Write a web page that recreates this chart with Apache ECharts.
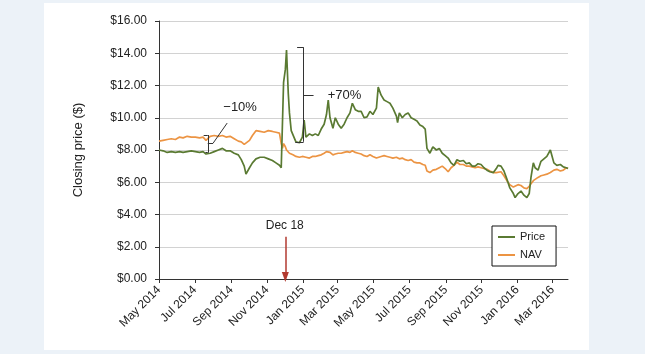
<!DOCTYPE html>
<html>
<head>
<meta charset="utf-8">
<script src="https://cdn.jsdelivr.net/npm/echarts@6/dist/echarts.min.js"></script>
<style>
  html, body { margin: 0; padding: 0; background: #ecf2f8; }
  #main { width: 645px; height: 354px; }
</style>
</head>
<body>
<div id="main"></div>
<script>
var chart = echarts.init(document.getElementById('main'));

// days counted from 1 May 2014
var days = [0,7,14,21,28,35,41,48,55,62,
  69,75,80,87,94,101,108,114,121,128,
  135,140,145,148,154,159,165,172,179,186,
  193,199,205,208,210,212,215,217,220,222,
  225,228,233,239,244,247,250,256,261,266,
  271,276,281,285,288,291,296,300,305,310,
  315,320,325,329,334,339,344,349,354,359,
  364,370,373,378,383,388,393,398,404,406,
  409,414,419,424,429,434,439,444,449,453,
  456,461,466,472,477,482,487,492,497,502,
  507,512,518,523,528,533,538,543,548,553,
  558,563,569,574,577,582,587,592,597,603,
  606,611,616,621,626,630,633,637,640,645,
  650,655,660,666,669,672,677,683,688,693,
  696];

var price = [8.0,7.95,7.85,7.9,7.85,7.9,7.85,7.9,7.95,7.9,
  7.85,7.9,7.75,7.8,7.9,8.0,8.1,7.95,7.95,7.8,
  7.7,7.4,7.0,6.5,6.9,7.2,7.45,7.55,7.55,7.45,
  7.35,7.2,7.05,6.9,7.0,12.2,13.0,14.2,11.5,10.3,
  9.2,9.1,8.5,8.45,8.8,9.85,8.8,9.0,8.9,9.0,
  8.9,9.3,9.6,10.2,11.1,10.0,9.35,10.0,9.6,9.35,
  9.6,10.0,10.3,10.9,10.5,10.4,10.4,10.0,10.05,10.4,
  10.2,10.6,11.9,11.4,11.1,11.0,10.9,10.6,10.1,9.7,
  10.3,10.0,10.2,10.3,10.0,9.9,9.8,9.55,9.45,9.3,
  8.1,7.8,8.2,8.0,8.1,7.8,7.65,7.5,7.2,7.05,
  7.4,7.3,7.35,7.15,7.2,7.0,7.0,7.15,7.1,6.9,
  6.75,6.65,6.6,6.85,7.05,7.0,6.7,6.2,5.65,5.3,
  5.05,5.3,5.45,5.2,5.05,5.3,6.3,7.2,6.9,6.75,
  7.3,7.45,7.6,8.0,7.6,7.2,7.05,7.1,6.95,6.9,
  6.85];

var nav = [8.55,8.6,8.65,8.7,8.65,8.8,8.75,8.85,8.8,8.8,
  8.75,8.8,8.6,8.85,8.9,8.85,8.9,8.8,8.85,8.7,
  8.55,8.5,8.35,8.4,8.6,8.9,9.2,9.15,9.1,9.2,
  9.15,9.1,9.05,8.4,8.1,8.4,8.2,8.0,7.9,7.8,
  7.75,7.7,7.6,7.55,7.6,7.6,7.55,7.5,7.6,7.6,
  7.65,7.7,7.8,7.9,8.0,7.85,7.7,7.75,7.8,7.8,
  7.85,7.9,7.85,7.95,7.85,7.8,7.75,7.65,7.6,7.7,
  7.6,7.5,7.55,7.6,7.65,7.6,7.55,7.5,7.55,7.5,
  7.45,7.5,7.4,7.35,7.4,7.25,7.2,7.2,7.1,7.05,
  6.7,6.6,6.75,6.8,6.9,7.0,6.85,6.65,6.9,7.05,
  7.25,7.1,7.1,7.0,7.0,6.95,6.9,6.95,6.9,6.85,
  6.8,6.7,6.6,6.6,6.7,6.65,6.4,6.1,5.85,5.7,
  5.75,5.85,5.8,5.65,5.6,5.75,5.9,6.1,6.2,6.3,
  6.4,6.45,6.5,6.6,6.7,6.75,6.8,6.7,6.75,6.9,
  6.85];

// first day of each labelled month, counted from 1 May 2014
var tickDays = [0,61,123,184,245,304,365,426,488,549,610,670];
var tickLabels = ['May 2014','Jul 2014','Sep 2014','Nov 2014','Jan 2015','Mar 2015',
  'May 2015','Jul 2015','Sep 2015','Nov 2015','Jan 2016','Mar 2016'];

var labelOf = {};
tickDays.forEach(function (t, i) { labelOf[t] = tickLabels[i]; });

var priceData = days.map(function (d, i) { return [d, price[i]]; });
var navData = days.map(function (d, i) { return [d, nav[i]]; });

var font = 'Liberation Sans, Arial, Helvetica, sans-serif';
var ink = '#222';

// brackets, leader and arrow (in data coords)
function seg(d1, v1, d2, v2, extra) {
  var a = { coord: [d1, v1] };
  var b = { coord: [d2, v2] };
  if (extra) { b.symbol = extra.symbol; b.symbolSize = extra.size; }
  return [a, b];
}
var noteLines = [
  // -10% bracket
  seg(76, 8.93, 83, 8.93), seg(83, 8.93, 83, 7.83), seg(79, 7.83, 83, 7.83),
  seg(83, 8.42, 92, 8.42), seg(92, 8.42, 116, 9.67),
  // +70% bracket
  seg(235, 14.37, 246, 14.37), seg(246, 14.37, 246, 8.51), seg(232, 8.51, 246, 8.51),
  seg(246, 11.41, 263, 11.41)
];
var arrowLine = [seg(215, 2.62, 215, 0.12, { symbol: 'triangle', size: [7, 10] })];

var option = {
  backgroundColor: '#ecf2f8',
  animation: false,
  graphic: [{
    type: 'rect', left: 44, top: 3, z: -10, silent: true,
    shape: { width: 545, height: 347 },
    style: { fill: '#ffffff' }
  }],
  grid: { left: 159, right: 77, top: 21, bottom: 75 },
  legend: {
    orient: 'vertical',
    left: 492, top: 226,
    data: ['Price', 'NAV'],
    icon: 'rect',
    itemWidth: 17, itemHeight: 2,
    itemGap: 6,
    padding: [5, 11, 5, 6],
    borderColor: '#111', borderWidth: 1,
    backgroundColor: '#fff',
    textStyle: { fontFamily: font, fontSize: 11, color: ink, lineHeight: 12 }
  },
  xAxis: {
    type: 'value',
    min: 0, max: 696,
    splitLine: { show: false },
    axisLine: { lineStyle: { color: '#333', width: 1 } },
    axisTick: { show: true, length: 4, customValues: tickDays, lineStyle: { color: '#333' } },
    axisLabel: {
      customValues: tickDays,
      rotate: 45, margin: 9,
      fontFamily: font, fontSize: 12, color: ink,
      formatter: function (v) { return labelOf[v] || ''; }
    }
  },
  yAxis: {
    type: 'value',
    min: 0, max: 16, interval: 2,
    name: 'Closing price ($)',
    nameLocation: 'middle', nameGap: 74,
    nameTextStyle: { fontFamily: font, fontSize: 13, color: ink },
    axisLine: { show: true, lineStyle: { color: '#333', width: 1 } },
    axisTick: { show: true, length: 4, lineStyle: { color: '#333' } },
    splitLine: { lineStyle: { color: '#d2d2d2', width: 1.2 } },
    axisLabel: {
      margin: 12, fontFamily: font, fontSize: 12, color: ink,
      formatter: function (v) { return '$' + v.toFixed(2); }
    }
  },
  series: [
    {
      name: 'Price', type: 'line', data: priceData, z: 3,
      showSymbol: false, symbol: 'none',
      lineStyle: { color: '#5a7a32', width: 1.7 },
      itemStyle: { color: '#5a7a32' },
      markLine: {
        silent: true, symbol: ['none', 'none'],
        label: { show: false },
        lineStyle: { color: '#333', width: 1, type: 'solid' },
        data: noteLines
      },
      markPoint: {
        silent: true, symbol: 'circle', symbolSize: 0,
        data: [
          { coord: [138, 10.62], label: { show: true, formatter: '\u221210%', fontFamily: font, fontSize: 13, color: ink } },
          { coord: [287, 11.41], label: { show: true, position: 'right', distance: 0, formatter: '+70%', fontFamily: font, fontSize: 13, color: ink } },
          { coord: [214, 3.3], label: { show: true, formatter: 'Dec 18', fontFamily: font, fontSize: 12, color: ink } }
        ]
      }
    },
    {
      name: 'NAV', type: 'line', data: navData, z: 2,
      showSymbol: false, symbol: 'none',
      lineStyle: { color: '#ec9443', width: 1.7 },
      itemStyle: { color: '#ec9443' },
      markLine: {
        silent: true, symbol: ['none', 'none'],
        label: { show: false },
        lineStyle: { color: '#b23a30', width: 1.5, type: 'solid' },
        data: arrowLine
      }
    }
  ]
};

chart.setOption(option);
</script>
</body>
</html>
